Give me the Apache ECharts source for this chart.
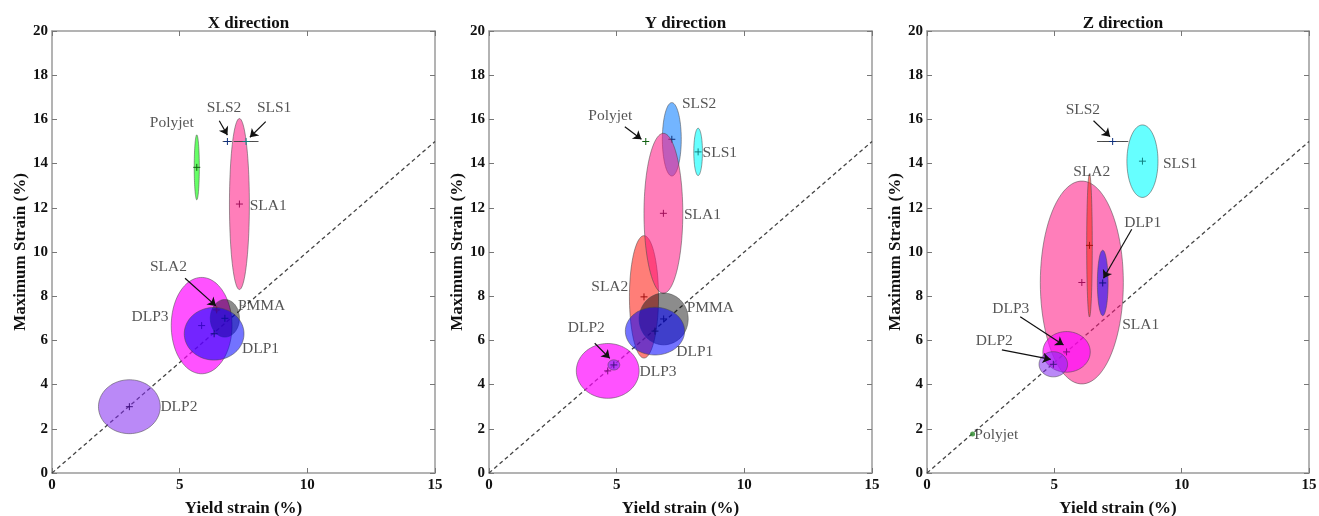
<!DOCTYPE html>
<html>
    <head>
        <meta charset="UTF-8" />
        <script src="https://cdn.jsdelivr.net/npm/echarts@6/dist/echarts.min.js"></script>
    </head>

    <body style="margin:0;background:#fff">
        <div id="main" style="width: 1319px; height: 516px"></div>
        <script type="text/javascript">
            // ---- data: mean and standard deviation of yield strain / maximum strain (%) ----
            // X direction
            var xName     = ['SLA1', 'Polyjet', 'DLP3', 'PMMA', 'SLA2', 'DLP1', 'DLP2', 'SLS2', 'SLS1'];
            var xYield    = [7.34, 5.67, 5.86, 6.77, 6.45, 6.35, 3.03, 6.87, 7.60];
            var xYieldSd  = [0.39, 0.10, 1.19, 0.57, 0.05, 1.17, 1.21, 0.18, 0.48];
            var xMax      = [12.17, 13.83, 6.67, 7.00, 7.38, 6.30, 3.00, 15.0, 15.0];
            var xMaxSd    = [3.87, 1.47, 2.18, 0.85, 0.10, 1.19, 1.22, 0, 0];

            // Y direction
            var yName     = ['SLS2', 'SLA2', 'SLA1', 'SLS1', 'PMMA', 'DLP1', 'DLP3', 'DLP2', 'Polyjet'];
            var yYield    = [7.16, 6.07, 6.83, 8.19, 6.84, 6.50, 4.65, 4.89, 6.14];
            var yYieldSd  = [0.37, 0.57, 0.76, 0.17, 0.96, 1.16, 1.23, 0.23, 0];
            var yMax      = [15.1, 7.97, 11.75, 14.53, 6.97, 6.42, 4.62, 4.89, 15.0];
            var yMaxSd    = [1.66, 2.77, 3.62, 1.07, 1.17, 1.08, 1.24, 0.23, 0];

            // Z direction
            var zName     = ['SLA1', 'SLA2', 'DLP1', 'DLP3', 'DLP2', 'SLS1', 'SLS2'];
            var zYield    = [6.08, 6.38, 6.90, 5.48, 4.96, 8.46, 7.29];
            var zYieldSd  = [1.63, 0.11, 0.21, 0.93, 0.56, 0.61, 0.61];
            var zMax      = [8.62, 10.30, 8.60, 5.48, 4.92, 14.11, 15.0];
            var zMaxSd    = [4.59, 3.24, 1.48, 0.92, 0.57, 1.64, 0];
            var zPolyjet  = [1.79, 1.76];

            var panelTitles = ['X direction', 'Y direction', 'Z direction'];
            var diagonal = [[0, 0], [15, 15]];

            // annotation text anchors (data units)
            var xLabels = [['Polyjet', 4.69, 15.82], ['SLS2', 6.74, 16.5], ['SLS1', 8.70, 16.5], ['SLA1', 8.47, 12.1],
                           ['SLA2', 4.56, 9.31], ['PMMA', 8.21, 7.56], ['DLP3', 3.84, 7.07], ['DLP1', 8.17, 5.61], ['DLP2', 4.97, 2.97]];
            var yLabels = [['SLS2', 8.23, 16.7], ['SLS1', 9.04, 14.47], ['Polyjet', 4.75, 16.15], ['SLA1', 8.36, 11.67],
                           ['SLA2', 4.73, 8.40], ['PMMA', 8.67, 7.45], ['DLP2', 3.81, 6.55], ['DLP1', 8.06, 5.46], ['DLP3', 6.62, 4.58]];
            var zLabels = [['SLS2', 6.12, 16.45], ['SLS1', 9.94, 13.97], ['SLA2', 6.47, 13.63], ['DLP1', 8.47, 11.33],
                           ['SLA1', 8.39, 6.70], ['DLP3', 3.29, 7.41], ['DLP2', 2.64, 5.99], ['Polyjet', 2.72, 1.72]];

            var xArrows = [[[6.55, 15.94], [6.87, 15.29]], [[8.37, 15.9], [7.75, 15.19]], [[5.21, 8.81], [6.42, 7.56]]];
            var yArrows = [[[5.32, 15.67], [5.97, 15.1]], [[4.14, 5.87], [4.73, 5.19]]];
            var zArrows = [[[6.54, 15.94], [7.19, 15.22]], [[8.04, 11.03], [6.93, 8.81]],
                           [[3.66, 7.07], [5.36, 5.79]], [[2.94, 5.57], [4.86, 5.14]]];

            // ---- styles ----
            var matStyle = {
                SLA1:    { fill: 'rgba(255,20,130,0.55)',  mark: '#a0105a' },
                SLA2:    { fill: 'rgba(255,40,30,0.6)',    mark: '#a01010' },
                SLS1:    { fill: 'rgba(0,255,255,0.6)',    mark: '#108080' },
                SLS2:    { fill: 'rgba(0,120,255,0.55)',   mark: '#10307a' },
                DLP1:    { fill: 'rgba(0,0,255,0.55)',     mark: '#101080' },
                DLP2:    { fill: 'rgba(130,40,240,0.55)',  mark: '#401080' },
                DLP3:    { fill: 'rgba(255,0,255,0.68)',   mark: '#801080' },
                Polyjet: { fill: 'rgba(0,255,0,0.6)',      mark: '#106010' },
                PMMA:    { fill: 'rgba(0,0,0,0.45)',       mark: '#202020' }
            };
            var serif = '"Liberation Serif", "Times New Roman", serif';

            var chart = echarts.init(document.getElementById('main'));

            function ellipseRenderer(names) {
                return function (params, api) {
                    var mx = api.value(0), my = api.value(1), sx = api.value(2), sy = api.value(3);
                    var pts = [];
                    for (var k = 0; k <= 90; k++) {
                        var t = k / 90 * Math.PI * 2;
                        pts.push(api.coord([mx + sx * Math.cos(t), my + sy * Math.sin(t)]));
                    }
                    var c = api.coord([mx, my]);
                    var st = matStyle[names[params.dataIndex]];
                    var flat = sy === 0;
                    return {
                        type: 'group',
                        children: [
                            { type: 'polygon', shape: { points: pts },
                              style: { fill: st.fill, stroke: flat ? '#444' : 'rgba(70,70,70,0.75)', lineWidth: flat ? 1 : 0.7 } },
                            { type: 'line', shape: { x1: c[0] - 3.5, y1: c[1], x2: c[0] + 3.5, y2: c[1] },
                              style: { stroke: st.mark, lineWidth: 1 } },
                            { type: 'line', shape: { x1: c[0], y1: c[1] - 3.5, x2: c[0], y2: c[1] + 3.5 },
                              style: { stroke: st.mark, lineWidth: 1 } }
                        ]
                    };
                };
            }

            function ellipseData(mx, my, sx, sy) {
                return mx.map(function (v, i) { return [v, my[i], sx[i], sy[i]]; });
            }

            var grids = [52, 489, 927].map(function (l, i) {
                return { left: l, top: 31, width: i === 2 ? 382 : 383, height: 442,
                         containLabel: false, outerBoundsMode: 'none' };
            });

            var xAxes = [], yAxes = [];
            grids.forEach(function (g, i) {
                var common = { gridIndex: i, type: 'value', min: 0, max: 15, interval: 5,
                    axisLine: { show: true, onZero: false, lineStyle: { color: '#9a9a9a', width: 1.5 } },
                    axisTick: { show: true, inside: true, length: 5, lineStyle: { color: '#777' } },
                    splitLine: { show: false } };
                xAxes.push(Object.assign({}, common, { position: 'bottom',
                    name: 'Yield strain (%)', nameLocation: 'middle', nameGap: 27,
                    nameTextStyle: { fontFamily: serif, fontWeight: 'bold', fontSize: 17, color: '#111' },
                    axisLabel: { fontFamily: serif, fontWeight: 'bold', fontSize: 15, color: '#111', margin: 5 } }));
                xAxes.push(Object.assign({}, common, { position: 'top', axisLabel: { show: false } }));
            });
            grids.forEach(function (g, i) {
                var common = { gridIndex: i, type: 'value', min: 0, max: 20, interval: 2,
                    axisLine: { show: true, onZero: false, lineStyle: { color: '#9a9a9a', width: 1.5 } },
                    axisTick: { show: true, inside: true, length: 5, lineStyle: { color: '#777' } },
                    splitLine: { show: false } };
                yAxes.push(Object.assign({}, common, { position: 'left',
                    name: 'Maximum Strain (%)', nameLocation: 'middle', nameGap: 19,
                    nameTextStyle: { fontFamily: serif, fontWeight: 'bold', fontSize: 17, color: '#111' },
                    axisLabel: { fontFamily: serif, fontWeight: 'bold', fontSize: 15, color: '#111', margin: 4 } }));
                yAxes.push(Object.assign({}, common, { position: 'right', axisLabel: { show: false } }));
            });

            var panels = [
                { names: xName, data: ellipseData(xYield, xMax, xYieldSd, xMaxSd), labels: xLabels, arrows: xArrows },
                { names: yName, data: ellipseData(yYield, yMax, yYieldSd, yMaxSd), labels: yLabels, arrows: yArrows },
                { names: zName, data: ellipseData(zYield, zMax, zYieldSd, zMaxSd), labels: zLabels, arrows: zArrows }
            ];

            var series = [];
            panels.forEach(function (p, i) {
                var ax = { xAxisIndex: i * 2, yAxisIndex: i * 2 };
                series.push(Object.assign({
                    type: 'line', data: diagonal, symbol: 'none', silent: true, z: 1,
                    lineStyle: { color: '#444', width: 1.3, type: [4, 3] }
                }, ax));
                series.push(Object.assign({
                    type: 'custom', renderItem: ellipseRenderer(p.names), data: p.data, clip: true, z: 2
                }, ax));
                series.push(Object.assign({
                    type: 'lines', coordinateSystem: 'cartesian2d', z: 4,
                    symbol: ['none', 'arrow'], symbolSize: 8,
                    lineStyle: { color: '#111', width: 1.2, opacity: 1 },
                    data: p.arrows.map(function (a) { return { coords: a }; })
                }, ax));
                series.push(Object.assign({
                    type: 'scatter', symbolSize: 0, z: 5,
                    label: { show: true, position: 'inside', formatter: '{b}',
                             fontFamily: serif, fontSize: 15.5, color: '#2a2a2a' },
                    data: p.labels.map(function (l) { return { name: l[0], value: [l[1], l[2]] }; })
                }, ax));
            });
            series.push({
                type: 'scatter', xAxisIndex: 4, yAxisIndex: 4, symbolSize: 5, z: 3,
                itemStyle: { color: '#2a8a2a' }, data: [zPolyjet]
            });

            var option = {
                animation: false,
                title: panelTitles.map(function (t, i) {
                    return { text: t, left: [243.5, 680.5, 1118][i], top: 10, textAlign: 'center',
                             textStyle: { fontFamily: serif, fontWeight: 'bold', fontSize: 17, color: '#111' } };
                }),
                grid: grids,
                xAxis: xAxes,
                yAxis: yAxes,
                series: series
            };

            option && chart.setOption(option);
        </script>
    </body>
</html>
